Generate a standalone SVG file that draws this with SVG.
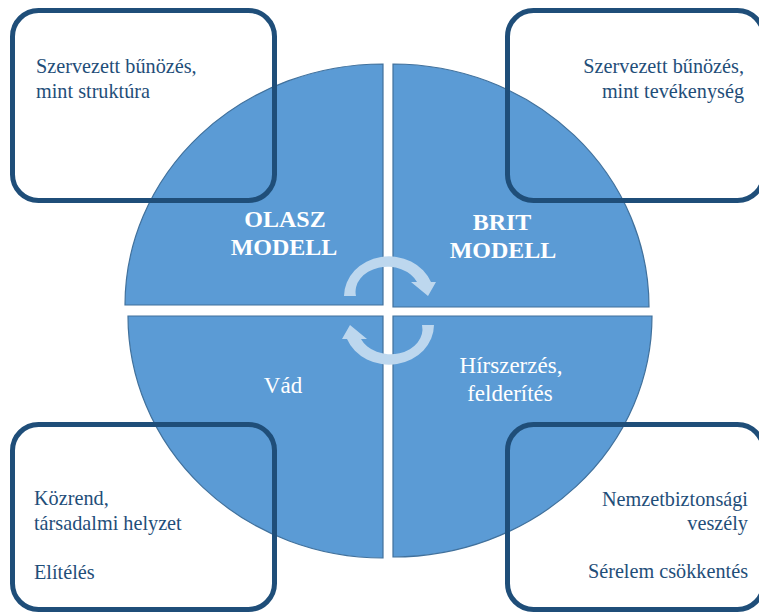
<svg xmlns="http://www.w3.org/2000/svg" width="759" height="613" viewBox="0 0 759 613">
<style>
.q{fill:#5B9BD5;stroke:#41719C;stroke-width:1.2}
.arr{fill:#BDD7EE}
.box{fill:none;stroke:#1F4E79;stroke-width:5}
.bt{font-size:22px;fill:#1F4E79}
.ql{font-size:23px;fill:#FFFFFF;text-anchor:middle}
.qb{font-size:24px;font-weight:bold;fill:#FFFFFF;text-anchor:middle}
.end{text-anchor:end}
</style>
<defs>
<path id="arrowShape" d="M 344 296 A 45 40 0 0 1 431 282 L 436 282 L 428 296 L 411 282 L 417 282 A 32 25 0 0 0 356 296 Z"/>
</defs>
<g id="quadrant-olasz">
<path class="q" d="M 383 305 L 125 305 A 258 241 0 0 1 383 64 Z"/>
</g>
<g id="quadrant-brit">
<path class="q" d="M 393 307 L 393 64 A 256 243 0 0 1 649 307 Z"/>
</g>
<g id="quadrant-vad">
<path class="q" d="M 383 316 L 383 558 A 255 242 0 0 1 128 316 Z"/>
</g>
<g id="quadrant-hirszerzes">
<path class="q" d="M 393 316 L 652 316 A 259 241 0 0 1 393 557 Z"/>
</g>
<g id="connectors">
<use href="#arrowShape" class="arr"/>
<use href="#arrowShape" class="arr" transform="rotate(180 389 310.5)"/>
</g>
<g id="labels" font-family="'Liberation Serif', 'Times New Roman', 'DejaVu Serif', serif">
<text class="qb" x="285" y="227">OLASZ</text>
<text class="qb" x="284" y="255">MODELL</text>
<text class="qb" x="502" y="230">BRIT</text>
<text class="qb" x="503" y="258">MODELL</text>
<text class="ql" x="283" y="393">Vád</text>
<text class="ql" x="511" y="373">Hírszerzés,</text>
<text class="ql" x="510" y="401">felderítés</text>
</g>
<g id="box-struktura" font-family="'Liberation Serif', 'Times New Roman', 'DejaVu Serif', serif">
<rect class="box" x="12.5" y="10.5" width="262" height="190" rx="26"/>
<text class="bt" transform="translate(36 0) scale(0.92 1)" x="0" y="73.5">Szervezett bűnözés,</text>
<text class="bt" transform="translate(36 0) scale(0.92 1)" x="0" y="98">mint struktúra</text>
</g>
<g id="box-tevekenyseg" font-family="'Liberation Serif', 'Times New Roman', 'DejaVu Serif', serif">
<rect class="box" x="507.5" y="10.5" width="256" height="190" rx="26"/>
<text class="bt end" transform="translate(744 0) scale(0.92 1)" x="0" y="73.5">Szervezett bűnözés,</text>
<text class="bt end" transform="translate(744 0) scale(0.92 1)" x="0" y="98">mint tevékenység</text>
</g>
<g id="box-kozrend" font-family="'Liberation Serif', 'Times New Roman', 'DejaVu Serif', serif">
<rect class="box" x="12.5" y="424.5" width="262" height="185" rx="26"/>
<text class="bt" transform="translate(34 0) scale(0.92 1)" x="0" y="505">Közrend,</text>
<text class="bt" transform="translate(34 0) scale(0.92 1)" x="0" y="530">társadalmi helyzet</text>
<text class="bt" transform="translate(34 0) scale(0.92 1)" x="0" y="579">Elítélés</text>
</g>
<g id="box-nemzetbiztonsag" font-family="'Liberation Serif', 'Times New Roman', 'DejaVu Serif', serif">
<rect class="box" x="507.5" y="424.5" width="256" height="185" rx="26"/>
<text class="bt end" transform="translate(748 0) scale(0.92 1)" x="0" y="506">Nemzetbiztonsági</text>
<text class="bt end" transform="translate(748 0) scale(0.92 1)" x="0" y="530">veszély</text>
<text class="bt end" transform="translate(748 0) scale(0.92 1)" x="0" y="578">Sérelem csökkentés</text>
</g>
</svg>
